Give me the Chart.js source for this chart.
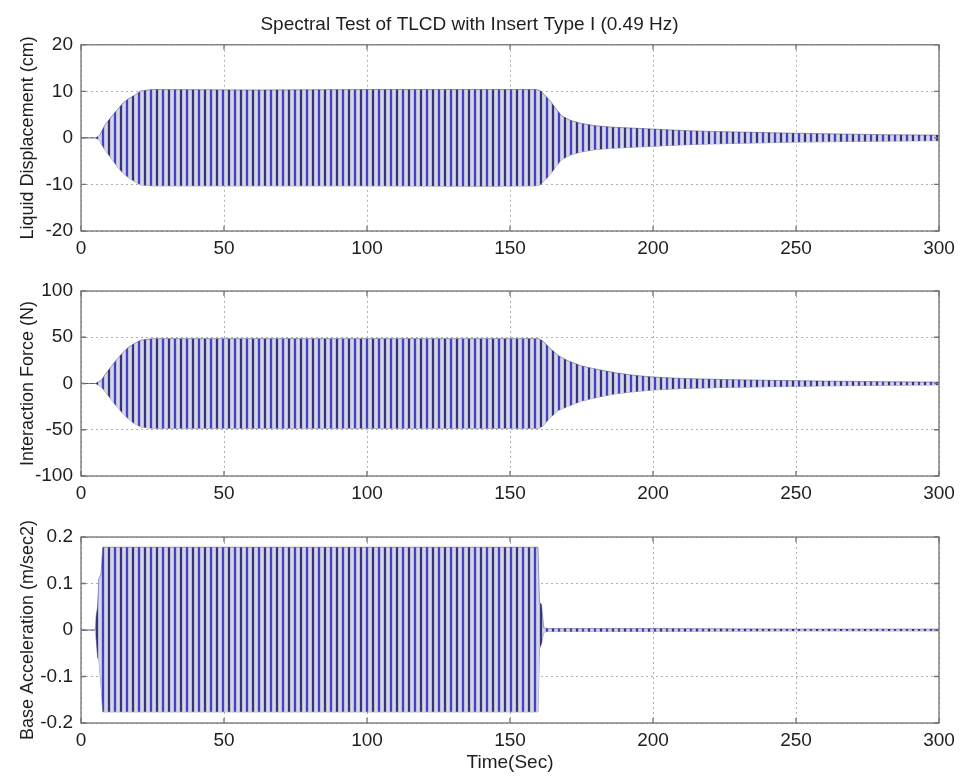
<!DOCTYPE html>
<html>
<head>
<meta charset="utf-8">
<title>Spectral Test of TLCD with Insert Type I (0.49 Hz)</title>
<script src="https://cdn.jsdelivr.net/npm/chart.js"></script>
<style>
  html, body { margin: 0; padding: 0; background: #fff; }
  #wrap { position: relative; width: 961px; height: 776px; overflow: hidden; }
  canvas { position: absolute; left: 0; }
</style>
</head>
<body>
<div id="wrap">
  <canvas id="c1" width="961" height="268" style="top:0px"></canvas>
  <canvas id="c2" width="961" height="244" style="top:268px"></canvas>
  <canvas id="c3" width="961" height="264" style="top:512px"></canvas>
</div>
<script>
// envelopes (tips of the 0.49 Hz oscillation)
const timeTicks = [0, 50, 100, 150, 200, 250, 300];

const dispTime  = [0, 5, 6, 6.6, 8.4, 10.7, 12.6, 14.7, 16.8, 18.9, 20.9, 25, 60, 100, 140, 159, 160.5, 162, 164, 166, 168, 171, 175, 180, 186, 193, 200, 210, 220, 235, 250, 265, 280, 300];
const dispUpper = [0, 0, 0.3, 0.7, 2.8, 4.6, 6.0, 7.5, 8.5, 9.2, 10.1, 10.4, 10.3, 10.4, 10.4, 10.4, 10.2, 9.3, 8.0, 6.3, 4.8, 3.8, 3.1, 2.6, 2.3, 2.1, 1.9, 1.6, 1.4, 1.2, 1.0, 0.85, 0.7, 0.6];
const dispLower = [0, 0, -0.3, -0.8, -2.6, -4.5, -6.1, -7.6, -8.6, -9.4, -10.1, -10.3, -10.3, -10.3, -10.4, -10.3, -10.1, -9.2, -7.9, -6.2, -4.7, -3.7, -3.0, -2.5, -2.2, -2.0, -1.8, -1.5, -1.3, -1.1, -0.9, -0.8, -0.7, -0.6];
const dispTicks = [-20, -10, 0, 10, 20];

const forceTime  = [0, 5, 6, 7, 8.5, 10.5, 12.5, 14.5, 16.5, 18.5, 21, 25, 60, 100, 140, 160, 161.5, 164, 167, 170, 175, 181, 187, 193, 200, 210, 225, 240, 260, 280, 300];
const forceUpper = [0, 0, 1.5, 3, 10, 18, 26, 33, 39, 43, 47, 48.5, 48.5, 48.5, 48.5, 48.5, 46, 38, 30, 25, 19, 15, 11.5, 9, 7, 5.5, 4.3, 3.5, 2.6, 2, 1.5];
const forceLower = [0, 0, -1.5, -3.5, -9, -17, -25, -32, -38, -43, -47, -48.5, -48.5, -48.5, -48.5, -48.5, -46, -37, -29, -25, -19, -14.6, -11, -9, -7, -5.5, -4.3, -3.5, -2.6, -2, -1.5];
const forceTicks = [-100, -50, 0, 50, 100];

const accTime  = [0, 5, 5.3, 5.8, 6.2, 7, 7.6, 40, 80, 120, 159.8, 160.3, 161, 161.8, 163, 200, 250, 300];
const accUpper = [0, 0, 0.03, 0.05, 0.11, 0.12, 0.178, 0.178, 0.178, 0.178, 0.178, 0.06, 0.055, 0.005, 0.003, 0.003, 0.002, 0.002];
const accLower = [0, 0, -0.02, -0.06, -0.06, -0.12, -0.176, -0.176, -0.176, -0.176, -0.176, -0.04, -0.03, -0.005, -0.003, -0.003, -0.002, -0.002];
const accTicks = [-0.2, -0.1, 0, 0.1, 0.2];

const FONT = 'Liberation Sans, Arial, Helvetica, sans-serif';
const TEXT = '#1e1e1e';

// dense vertical hatching that stands in for the individual cycles
function hatch() {
  const c = document.createElement('canvas');
  c.width = 12; c.height = 4;
  const g = c.getContext('2d');
  g.fillStyle = '#bdbdd9'; g.fillRect(0, 0, 12, 4);
  g.fillStyle = '#d6d6e8'; g.fillRect(3, 0, 2, 4);
  g.fillStyle = '#d6d6e8'; g.fillRect(9, 0, 2, 4);
  g.fillStyle = '#363676'; g.fillRect(0, 0, 2, 4);
  g.fillStyle = '#4242c6'; g.fillRect(6, 0, 2, 4);
  return g.createPattern(c, 'repeat');
}

// matlab style box + inward ticks
const boxPlugin = {
  id: 'box',
  afterDatasetsDraw(chart) {
    const {ctx, chartArea: a, scales: {x, y}} = chart;
    ctx.save();
    ctx.strokeStyle = '#747474';
    ctx.lineWidth = 1.3;
    ctx.strokeRect(a.left, a.top, a.right - a.left, a.bottom - a.top);
    ctx.beginPath();
    x.ticks.forEach(t => {
      const px = x.getPixelForValue(t.value);
      ctx.moveTo(px, a.bottom); ctx.lineTo(px, a.bottom - 5);
      ctx.moveTo(px, a.top); ctx.lineTo(px, a.top + 5);
    });
    y.ticks.forEach(t => {
      const py = y.getPixelForValue(t.value);
      ctx.moveTo(a.left, py); ctx.lineTo(a.left + 5, py);
      ctx.moveTo(a.right, py); ctx.lineTo(a.right - 5, py);
    });
    ctx.stroke();
    ctx.restore();
  }
};

function makeChart(id, time, upper, lower, yTicks, yTitle, o) {
  const pat = hatch();
  return new Chart(document.getElementById(id), {
    type: 'line',
    data: {
      datasets: [
        {
          data: time.map((t, i) => ({x: t, y: upper[i]})),
          borderColor: 'rgba(44,44,118,0.45)',
          borderWidth: 1,
          backgroundColor: pat,
          fill: '+1',
          pointRadius: 0,
          tension: 0
        },
        {
          data: time.map((t, i) => ({x: t, y: lower[i]})),
          borderColor: 'rgba(44,44,118,0.45)',
          borderWidth: 1,
          fill: false,
          pointRadius: 0,
          tension: 0
        }
      ]
    },
    options: {
      responsive: false,
      animation: false,
      devicePixelRatio: 1,
      layout: { padding: { top: o.padTop, left: 0, right: 22, bottom: 0 } },
      plugins: {
        legend: { display: false },
        tooltip: { enabled: false },
        title: o.title ? {
          display: true,
          text: o.title,
          color: TEXT,
          font: { family: FONT, size: 19, weight: 'normal' },
          padding: { top: 13, bottom: 9 }
        } : { display: false }
      },
      scales: {
        x: {
          type: 'linear',
          min: 0, max: 300,
          afterBuildTicks: s => { s.ticks = timeTicks.map(v => ({value: v})); },
          afterFit: s => { s.height = o.xHeight; },
          grid: { color: '#b0b0b0', lineWidth: 1, drawTicks: false },
          border: { display: false, dash: [2, 3] },
          ticks: { color: TEXT, padding: 6, maxRotation: 0, font: { family: FONT, size: 19 }, callback: v => String(v) },
          title: o.xTitle ? {
            display: true, text: o.xTitle, color: TEXT,
            font: { family: FONT, size: 19 }, padding: { top: 0, bottom: 2 }
          } : { display: false }
        },
        y: {
          min: yTicks[0], max: yTicks[yTicks.length - 1],
          afterBuildTicks: s => { s.ticks = yTicks.map(v => ({value: v})); },
          afterFit: s => { s.width = 81; },
          grid: { color: '#b0b0b0', lineWidth: 1, drawTicks: false },
          border: { display: false, dash: [2, 3] },
          ticks: { color: TEXT, padding: 8, font: { family: FONT, size: 19 }, callback: v => String(v) },
          title: {
            display: true, text: yTitle, color: TEXT,
            font: { family: FONT, size: 18 }, padding: { top: 17, bottom: 0 }
          }
        }
      }
    },
    plugins: [boxPlugin]
  });
}

makeChart('c1', dispTime, dispUpper, dispLower, dispTicks, 'Liquid Displacement (cm)',
  { padTop: 0, xHeight: 37, title: 'Spectral Test of TLCD with Insert Type I (0.49 Hz)' });
makeChart('c2', forceTime, forceUpper, forceLower, forceTicks, 'Interaction Force (N)',
  { padTop: 23, xHeight: 36 });
makeChart('c3', accTime, accUpper, accLower, accTicks, 'Base Acceleration (m/sec2)',
  { padTop: 25, xHeight: 53, xTitle: 'Time(Sec)' });
</script>
</body>
</html>
